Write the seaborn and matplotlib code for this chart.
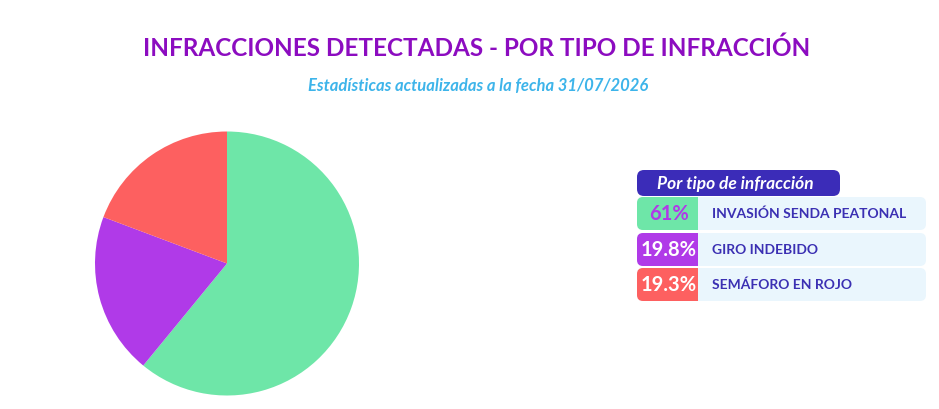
import matplotlib
matplotlib.use("Agg")
import matplotlib.pyplot as plt
import seaborn as sns
from matplotlib.patches import FancyBboxPatch

# data
categorias = ["INVASIÓN SENDA PEATONAL", "GIRO INDEBIDO", "SEMÁFORO EN ROJO"]
porcentajes = [61, 19.8, 19.3]
etiquetas = ["61%", "19.8%", "19.3%"]
colores = ["#6ee6a8", "#b03ae8", "#fd6060"]
color_texto_pct = ["#b03ae8", "white", "white"]

sns.set_theme(style="white")
plt.rcParams['font.family'] = ['Lato', 'DejaVu Sans']

fig = plt.figure(figsize=(9.39, 4.09), dpi=100)
fig.patch.set_facecolor("white")

# overlay in pixel coords for texts and legend table
bg = fig.add_axes([0, 0, 1, 1])
bg.set_xlim(0, 939)
bg.set_ylim(409, 0)
bg.axis("off")

bg.text(477, 48, "INFRACCIONES DETECTADAS - POR TIPO DE INFRACCIÓN", ha="center", va="center",
        fontsize=17.5, fontweight="bold", color="#8c0cc0")
bg.text(478, 86, "Estadísticas actualizadas a la fecha 31/07/2026", ha="center", va="center",
        fontsize=12, fontweight="bold", style="italic", color="#3db4ea")

# pie
ax = fig.add_axes([95/939, 1 - 396/409, 264/939, 265/409])
ax.pie(porcentajes, colors=colores, startangle=90, counterclock=False,
       wedgeprops=dict(linewidth=0))
ax.set_xlim(-1.0, 1.0)
ax.set_ylim(-1.0, 1.0)
ax.set_aspect("equal")

# legend table
x0, x1, xp = 637, 926, 698
hdr = FancyBboxPatch((x0, 170), 840 - x0, 26, boxstyle="round,pad=0,rounding_size=7",
                     facecolor="#3b2cb8", edgecolor="none")
bg.add_patch(hdr)
bg.text(657, 183.5, "Por tipo de infracción", ha="left", va="center", fontsize=12.5,
        fontweight="bold", style="italic", color="white")

row_top = [197, 233, 268]
row_h = 33
for i, (cat, lab) in enumerate(zip(categorias, etiquetas)):
    y = row_top[i]
    bg.add_patch(FancyBboxPatch((x0, y), x1 - x0, row_h, boxstyle="round,pad=0,rounding_size=6",
                                facecolor="#eaf6fd", edgecolor="none"))
    bg.add_patch(FancyBboxPatch((x0, y), xp - x0, row_h, boxstyle="round,pad=0,rounding_size=6",
                                facecolor=colores[i], edgecolor="none"))
    bg.add_patch(plt.Rectangle((xp - 8, y), 8, row_h, facecolor=colores[i], edgecolor="none"))
    bg.text((x0 + xp) / 2 + 1, y + row_h / 2 + 0.5, lab, ha="center", va="center", fontsize=14.5,
            fontweight="bold", color=color_texto_pct[i])
    bg.text(712, y + row_h / 2 + 0.5, cat, ha="left", va="center", fontsize=10,
            fontweight="bold", color="#3b30b3")

fig.savefig("out.png", dpi=100, facecolor="white")
